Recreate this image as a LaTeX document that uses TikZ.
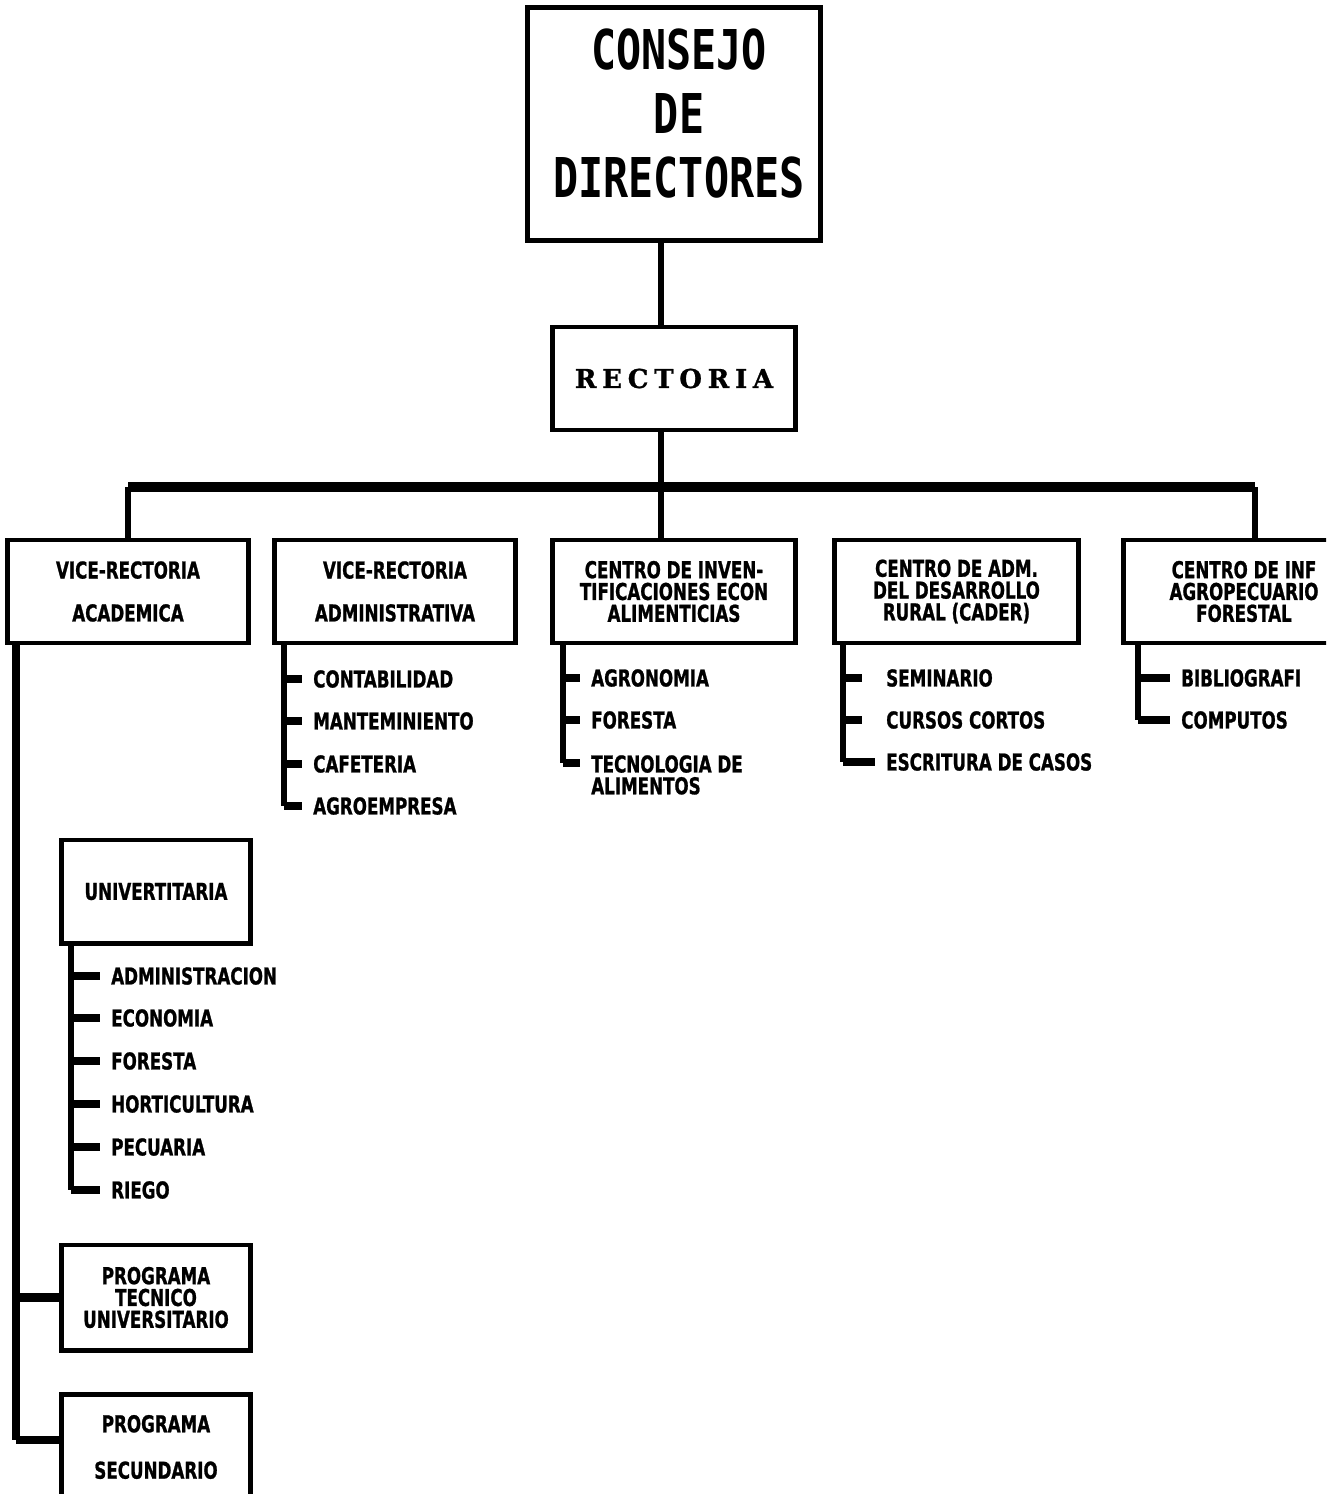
\documentclass[tikz,border=0pt]{standalone}
\usepackage{fontspec}
\newfontfamily\boardfont[FakeStretch=0.76]{DejaVu Sans Mono Bold}
\newfontfamily\unitfont[FakeStretch=0.72, FakeBold=1]{DejaVu Sans Bold}
\newfontfamily\headfont[LetterSpace=22, FakeBold=1]{DejaVu Serif Bold}

\tikzset{
  unit/.style={draw, line width=1.4pt, minimum width=2.4cm, minimum height=1.03cm,
    inner sep=0pt, align=center, font=\unitfont\fontsize{6.6}{6.2}\selectfont},
  item/.style={anchor=west, inner sep=3pt, align=left,
    font=\unitfont\fontsize{6.6}{6.2}\selectfont},
  link/.style={line width=1.5pt},
  bus/.style={line width=2.8pt},
  stem/.style={line width=1.8pt},
  tick/.style={line width=2.3pt},
}

\begin{document}
\begin{tikzpicture}[x=0.01cm, y=-0.01cm]
  \path[use as bounding box, clip] (0,0) rectangle (1326,1494);

  % consejo and rectoria
  \node[unit, minimum width=2.92cm, minimum height=2.32cm] (consejo) at (674,124) {};
  \node[align=center, font=\boardfont\fontsize{15.6}{18.2}\selectfont] (consejo-text) at (679,114) {CONSEJO\\DE\\DIRECTORES};
  \node[unit, font=\headfont\fontsize{7.4}{8}\selectfont, minimum width=2.42cm] (rectoria) at (674,378.5) {RECTORIA};

  \coordinate (spine) at (661,487);
  \coordinate (bus-r) at (1255,487);
  \draw[link] (consejo.south -| spine) -- (rectoria.north -| spine);
  \draw[link] (rectoria.south -| spine) -- (spine);

  % second level
  \node[unit] (academica) at (128,591.5) {VICE-RECTORIA\\[6pt]ACADEMICA};
  \node[unit] (administrativa) at (395,591.5) {VICE-RECTORIA\\[6pt]ADMINISTRATIVA};
  \node[unit, minimum width=2.42cm] (investigaciones) at (674,591.5) {CENTRO DE INVEN-\\TIFICACIONES ECON\\ALIMENTICIAS};
  \node[unit, minimum width=2.43cm] (cader) at (956.5,591.5) {CENTRO DE ADM.\\DEL DESARROLLO\\RURAL (CADER)};
  \node[unit] (informacion) at (1244,591.5) {CENTRO DE INF\\AGROPECUARIO\\FORESTAL};

  \draw[bus] (academica.north |- spine) -- (bus-r);
  \draw[link] (academica.north |- spine) -- (academica.north);
  \draw[link] (spine) -- (spine |- investigaciones.north);
  \draw[link] (bus-r) -- (bus-r |- informacion.north);

  % administrativa
  \node[item] (contabilidad) at (302,679) {CONTABILIDAD};
  \node[item] (mantenimiento) at (302,721) {MANTEMINIENTO};
  \node[item] (cafeteria) at (302,764) {CAFETERIA};
  \node[item] (agroempresa) at (302,806) {AGROEMPRESA};
  \coordinate (adm-s) at (284,0);
  \draw[stem] (administrativa.south -| adm-s) -- (adm-s |- agroempresa.west);
  \foreach \n in {contabilidad, mantenimiento, cafeteria, agroempresa}
    \draw[tick] (adm-s |- \n.west) -- (\n.west);

  % investigaciones
  \node[item] (agronomia) at (580,678) {AGRONOMIA};
  \node[item] (foresta) at (580,720) {FORESTA};
  \node[item, anchor=north west] (tecnologia) at (580,744) {TECNOLOGIA DE\\ALIMENTOS};
  \coordinate (inv-s) at (563,0);
  \coordinate (tec-t) at (580,763);
  \draw[stem] (investigaciones.south -| inv-s) -- (inv-s |- tec-t);
  \foreach \n in {agronomia.west, foresta.west, tec-t}
    \draw[tick] (inv-s |- \n) -- (\n);

  % cader
  \node[item] (seminario) at (875,678) {SEMINARIO};
  \node[item] (cursos) at (875,720) {CURSOS CORTOS};
  \node[item] (escritura) at (875,762) {ESCRITURA DE CASOS};
  \coordinate (cad-s) at (843,0);
  \draw[stem] (cader.south -| cad-s) -- (cad-s |- escritura.west);
  \draw[tick] (cad-s |- seminario.west) -- ++(19,0);
  \draw[tick] (cad-s |- cursos.west) -- ++(19,0);
  \draw[tick] (cad-s |- escritura.west) -- (escritura.west);

  % informacion
  \node[item] (bibliografia) at (1170,678) {BIBLIOGRAFI};
  \node[item] (computos) at (1170,720) {COMPUTOS};
  \coordinate (inf-s) at (1138,0);
  \draw[stem] (informacion.south -| inf-s) -- (inf-s |- computos.west);
  \foreach \n in {bibliografia, computos}
    \draw[tick] (inf-s |- \n.west) -- (\n.west);

  % academica
  \node[unit, minimum width=1.88cm] (universitaria) at (156,891.5) {UNIVERTITARIA};
  \node[item] (administracion) at (100,976) {ADMINISTRACION};
  \node[item] (economia) at (100,1018) {ECONOMIA};
  \node[item] (forestal) at (100,1061) {FORESTA};
  \node[item] (horticultura) at (100,1104) {HORTICULTURA};
  \node[item] (pecuaria) at (100,1147) {PECUARIA};
  \node[item] (riego) at (100,1190) {RIEGO};
  \coordinate (uni-s) at (71,0);
  \draw[stem] (universitaria.south -| uni-s) -- (uni-s |- riego.west);
  \foreach \n in {administracion, economia, forestal, horticultura, pecuaria, riego}
    \draw[tick] (uni-s |- \n.west) -- (\n.west);

  \node[unit, minimum width=1.88cm, minimum height=1.05cm] (tecnico) at (156,1297.5) {PROGRAMA\\TECNICO\\UNIVERSITARIO};
  \node[unit, minimum width=1.88cm, minimum height=1.05cm] (secundario) at (156,1447) {PROGRAMA\\[7pt]SECUNDARIO};
  \coordinate (acad-s) at (16,1440);
  \draw[stem, line width=2.2pt] (academica.south -| acad-s) -- (acad-s);
  \draw[tick] (acad-s) -- (acad-s -| secundario.west);
  \draw[tick] (acad-s |- tecnico.west) -- (tecnico.west);
\end{tikzpicture}
\end{document}
